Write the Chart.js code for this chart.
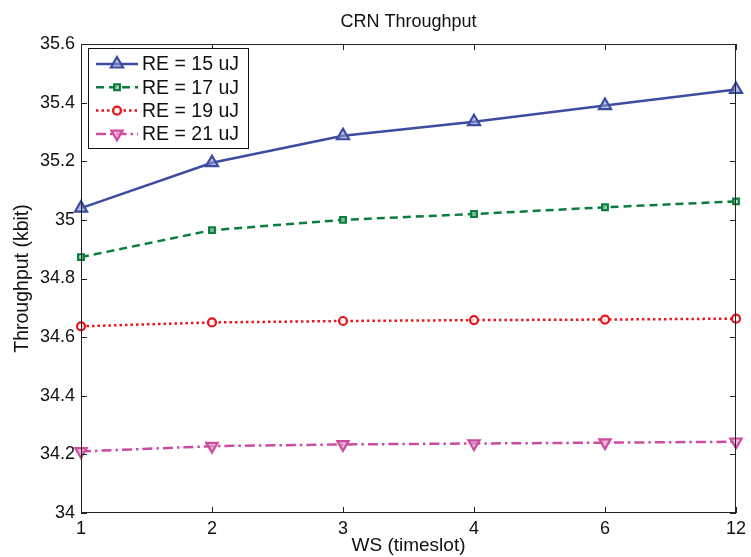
<!DOCTYPE html>
<html lang="en">
<head>
    <meta charset="UTF-8">
    <title>CRN Throughput</title>
    <script src="https://cdn.jsdelivr.net/npm/chart.js"></script>
    <style>
        html, body { margin: 0; padding: 0; background: #fff; }
        #box { width: 751px; height: 557px; }
    </style>
</head>
<body>
    <div id="box"><canvas id="grafico" width="751" height="557"></canvas></div>

<script>
    // dados
    const categorias = ['1', '2', '3', '4', '6', '12'];
    const re15 = [35.04, 35.195, 35.287, 35.335, 35.39, 35.445];
    const re17 = [34.873, 34.965, 35.0, 35.02, 35.043, 35.063];
    const re19 = [34.637, 34.65, 34.655, 34.658, 34.66, 34.663];
    const re21 = [34.21, 34.228, 34.234, 34.237, 34.24, 34.243];
    const ticksY = [34, 34.2, 34.4, 34.6, 34.8, 35, 35.2, 35.4, 35.6];
    const nomes = ['RE = 15 uJ', 'RE = 17 uJ', 'RE = 19 uJ', 'RE = 21 uJ'];

    const fonte = '"Liberation Sans", Arial, sans-serif';

    // caixa + ticks pra dentro, titulo e legenda estilo matlab
    const estiloMatlab = {
        id: 'estiloMatlab',
        afterDraw(chart) {
            const ctx = chart.ctx;
            const a = chart.chartArea;
            const sx = chart.scales.x;
            const sy = chart.scales.y;
            ctx.save();
            ctx.strokeStyle = '#222';
            ctx.lineWidth = 1;
            ctx.strokeRect(a.left + 0.5, a.top + 0.5, a.right - a.left - 1, a.bottom - a.top - 1);
            ctx.beginPath();
            sy.ticks.forEach((t) => {
                var y = Math.round(sy.getPixelForValue(t.value)) + 0.5;
                ctx.moveTo(a.left, y); ctx.lineTo(a.left + 6, y);
                ctx.moveTo(a.right, y); ctx.lineTo(a.right - 6, y);
            });
            categorias.forEach((c, i) => {
                var x = Math.round(sx.getPixelForValue(i)) + 0.5;
                ctx.moveTo(x, a.bottom); ctx.lineTo(x, a.bottom - 6);
                ctx.moveTo(x, a.top); ctx.lineTo(x, a.top + 6);
            });
            ctx.stroke();

            // titulo
            ctx.fillStyle = '#111';
            ctx.font = '18px ' + fonte;
            ctx.textAlign = 'center';
            ctx.textBaseline = 'middle';
            ctx.fillText('CRN Throughput', (a.left + a.right) / 2, 22);

            // legenda
            var lx = 88, ly = 48, lw = 160, lh = 100;
            ctx.fillStyle = '#fff';
            ctx.fillRect(lx, ly, lw, lh);
            ctx.strokeStyle = '#111';
            ctx.strokeRect(lx + 0.5, ly + 0.5, lw, lh);
            chart.data.datasets.forEach((ds, i) => {
                var y = 64 + i * 23.3;
                ctx.strokeStyle = ds.borderColor;
                ctx.lineWidth = ds.borderWidth;
                ctx.setLineDash(ds.borderDash || []);
                ctx.beginPath();
                ctx.moveTo(96, y); ctx.lineTo(138, y);
                ctx.stroke();
                ctx.setLineDash([]);
                ctx.lineWidth = ds.pointBorderWidth;
                ctx.fillStyle = ds.pointBackgroundColor;
                Chart.helpers.drawPoint(ctx, {
                    pointStyle: ds.pointStyle,
                    radius: ds.pointRadius,
                    rotation: ds.pointRotation || 0,
                    borderWidth: ds.pointBorderWidth
                }, 117, y);
                ctx.fillStyle = '#111';
                ctx.font = '19.5px ' + fonte;
                ctx.textAlign = 'left';
                ctx.fillText(nomes[i], 142, y + 1);
            });
            ctx.restore();
        }
    };

    function serie(dados, i, cor, miolo, dash, estilo, raio, rot) {
        return {
            label: nomes[i],
            data: dados,
            borderColor: cor,
            borderWidth: 2.5,
            borderDash: dash,
            pointStyle: estilo,
            pointRadius: raio,
            pointRotation: rot,
            pointBorderColor: cor,
            pointBorderWidth: 2.2,
            pointBackgroundColor: miolo,
            tension: 0,
            clip: false
        };
    }

    const grafico = new Chart(document.getElementById('grafico'), {
        type: 'line',
        data: {
            labels: categorias,
            datasets: [
                serie(re15, 0, '#3c4da1', 'rgba(140,150,205,0.6)', [], 'triangle', 7, 0),
                serie(re17, 1, '#0b7d3b', 'rgba(170,215,185,0.7)', [8, 5], 'rect', 4, 0),
                serie(re19, 2, '#e8151d', 'rgba(255,255,255,0.8)', [2.5, 3], 'circle', 4, 0),
                serie(re21, 3, '#cc4b9f', 'rgba(225,160,200,0.7)', [10, 4, 2.5, 4], 'triangle', 6.5, 180)
            ]
        },
        options: {
            responsive: false,
            animation: false,
            layout: { padding: { top: 44, right: 10, left: 0, bottom: 0 } },
            plugins: {
                legend: { display: false },
                tooltip: { enabled: false }
            },
            scales: {
                x: {
                    type: 'category',
                    offset: false,
                    grid: { drawOnChartArea: false, drawTicks: false },
                    border: { display: false },
                    ticks: { color: '#111', font: { family: fonte, size: 18 }, padding: 5, maxRotation: 0, autoSkip: false },
                    title: { display: true, text: 'WS (timeslot)', color: '#111', font: { family: fonte, size: 19 }, padding: { top: 0, bottom: 0 } },
                    afterFit(s) { s.height = 44; }
                },
                y: {
                    min: 34,
                    max: 35.6,
                    grid: { drawOnChartArea: false, drawTicks: false },
                    border: { display: false },
                    afterBuildTicks(s) { s.ticks = ticksY.map((v) => ({ value: v })); },
                    ticks: {
                        color: '#111',
                        font: { family: fonte, size: 18 },
                        padding: 6,
                        callback: (v) => String(Number(Number(v).toFixed(1)))
                    },
                    title: { display: true, text: 'Throughput (kbit)', color: '#111', font: { family: fonte, size: 19.5 }, padding: { top: 11, bottom: 0 } },
                    afterFit(s) { s.width = 81; }
                }
            }
        },
        plugins: [estiloMatlab]
    });
</script>
</body>
</html>
